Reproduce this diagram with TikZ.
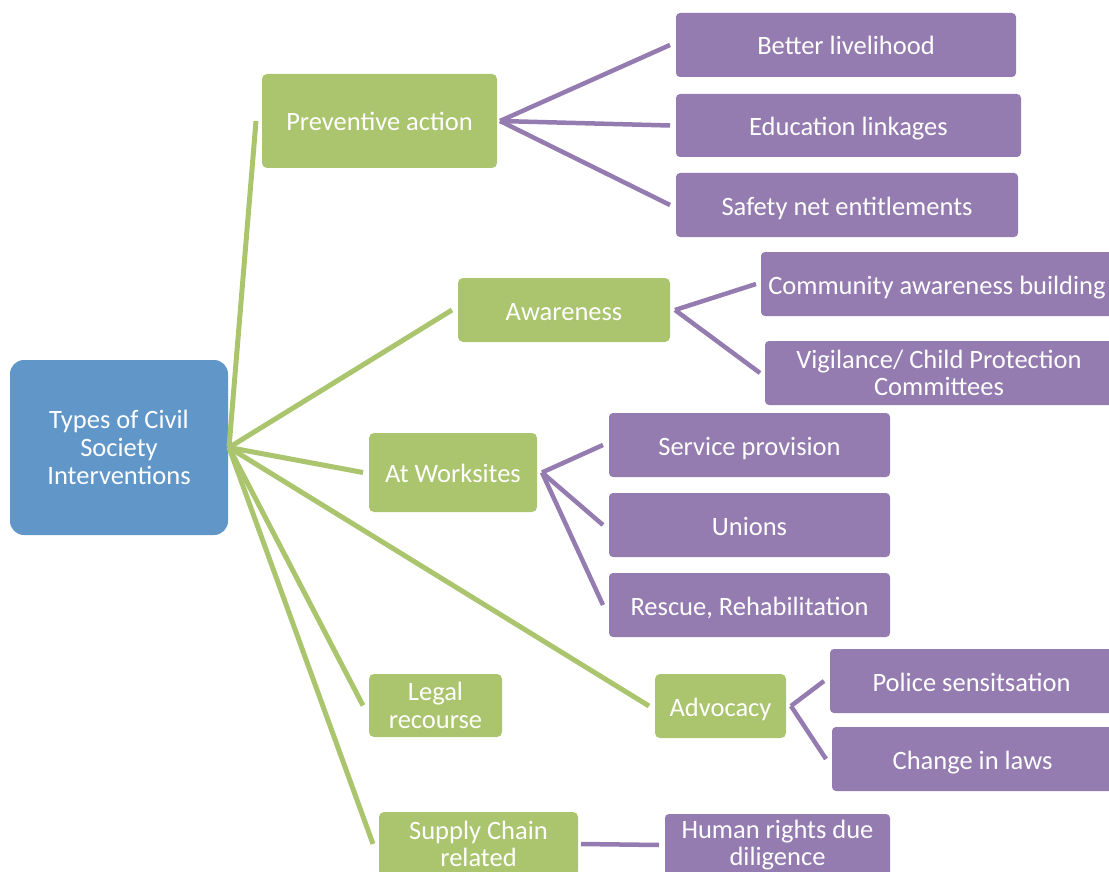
\documentclass[tikz,border=0pt]{standalone}
\usepackage{fontspec}
\setmainfont{Carlito}
\definecolor{rootblue}{RGB}{97,150,201}
\definecolor{leafgreen}{RGB}{171,196,110}
\definecolor{leafpurple}{RGB}{148,123,176}
\newcommand{\mkbox}[7]{\node[#2, minimum width={#5-#3}, minimum height={#6-#4}] (#1) at ({(#3+#5)/2},{(#4+#6)/2}) {#7};}
\begin{document}
\begin{tikzpicture}[x=1pt,y=-1pt,
  basebox/.style={inner sep=0pt, outer sep=0pt, text=white, align=center,
    font=\fontsize{26.5}{27.7}\selectfont},
  onel/.style={text height=22pt, text depth=2pt},
  rootbox/.style={basebox, fill=rootblue, rounded corners=14pt},
  greenbox/.style={basebox, fill=leafgreen, rounded corners=5pt},
  purplebox/.style={basebox, fill=leafpurple, rounded corners=4pt},
  gline/.style={draw=leafgreen, line width=5pt},
  pline/.style={draw=leafpurple, line width=4.5pt}]
\useasboundingbox (0,0) rectangle (1109,872);
\clip (0,0) rectangle (1109,872);
% root
\mkbox{root}{rootbox}{10}{360}{228}{535}{Types of Civil\\Society\\Interventions}
% green
\mkbox{prev}{greenbox,onel}{262}{74}{497}{168}{Preventive action}
\mkbox{aware}{greenbox,onel}{458}{278}{670}{342}{Awareness}
\mkbox{work}{greenbox,onel}{369}{433}{537}{512}{At Worksites}
\mkbox{legal}{greenbox}{369}{674}{502}{737}{Legal\\recourse}
\mkbox{adv}{greenbox,onel}{655}{674}{786}{738}{Advocacy}
\mkbox{supply}{greenbox}{379}{812}{578}{876}{Supply Chain\\related}
% purple
\mkbox{liveli}{purplebox,onel}{676}{13}{1016}{77}{Better livelihood}
\mkbox{edu}{purplebox,onel}{676}{94}{1021}{157}{Education linkages}
\mkbox{safety}{purplebox,onel}{676}{173}{1018}{237}{Safety net entitlements}
\mkbox{comm}{purplebox,onel}{761}{252}{1113}{316}{Community awareness building}
\mkbox{vigil}{purplebox}{765}{341}{1113}{405}{Vigilance/ Child Protection\\Committees}
\mkbox{serv}{purplebox,onel}{609}{413}{890}{477}{Service provision}
\mkbox{unions}{purplebox,onel}{609}{493}{890}{557}{Unions}
\mkbox{rescue}{purplebox,onel}{609}{573}{890}{637}{Rescue, Rehabilitation}
\mkbox{police}{purplebox,onel}{830}{649}{1113}{713}{Police sensitsation}
\mkbox{laws}{purplebox,onel}{832}{727}{1113}{791}{Change in laws}
\mkbox{human}{purplebox}{665}{814}{890}{876}{Human rights due\\diligence}
% green connectors
\coordinate (hub) at ([xshift=1pt]root.east);
\foreach \t in {prev,aware,work,legal,adv,supply}
  \draw[gline] (hub) -- ([xshift=-6pt]\t.west);
% purple connectors
\foreach \t in {liveli,edu,safety}
  \draw[pline] ([xshift=3pt]prev.east) -- ([xshift=-6pt]\t.west);
\foreach \t in {comm,vigil}
  \draw[pline] ([xshift=5pt]aware.east) -- ([xshift=-5pt]\t.west);
\foreach \t in {serv,unions,rescue}
  \draw[pline] ([xshift=5pt]work.east) -- ([xshift=-6pt]\t.west);
\foreach \t in {police,laws}
  \draw[pline] ([xshift=5pt]adv.east) -- ([xshift=-6pt]\t.west);
\draw[pline] ([xshift=3pt]supply.east) -- ([xshift=-6pt]human.west);
\end{tikzpicture}
\end{document}
